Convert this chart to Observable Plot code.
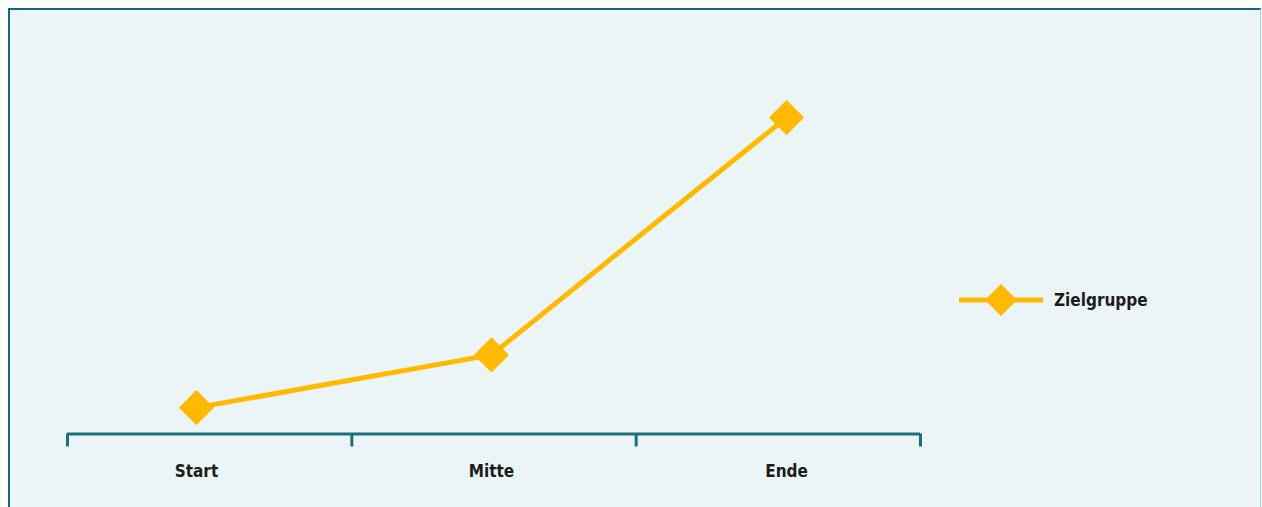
<!DOCTYPE html>
<html>
<head>
<meta charset="utf-8">
<script src="https://cdn.jsdelivr.net/npm/d3@7"></script>
<script src="https://cdn.jsdelivr.net/npm/@observablehq/plot@0.6"></script>
<style>
  html, body { margin: 0; padding: 0; background: #ffffff; }
  #panel {
    position: absolute; left: 8px; top: 8px; width: 1253px; height: 499px;
    box-sizing: border-box; background: #ebf5f6;
    border-top: 2px solid #116b77; border-left: 2px solid #116b77; border-right: 1px solid #a8cdd2;
    overflow: hidden;
  }
  #chart { position: absolute; left: 0; top: 0; }
  #legend { position: absolute; left: 949px; top: 273px; height: 34px; display: flex; align-items: center; }
  #legend span { margin-left: 11px; font: bold 17px "DejaVu Sans Condensed", "DejaVu Sans", sans-serif; font-stretch: condensed; color: #1c1c1c; }
</style>
</head>
<body>
<div id="panel">
  <div id="chart"></div>
  <div id="legend">
    <svg width="84" height="34" viewBox="0 0 84 34">
      <line x1="0" y1="17" x2="84" y2="17" stroke="#ffb900" stroke-width="5"></line>
      <polygon points="42,1 58,17 42,33 26,17" fill="#ffb900"></polygon>
    </svg>
    <span>Zielgruppe</span>
  </div>
</div>
<script>
// Measurement points along the timeline
const stages = ["Start", "Mitte", "Ende"];
const values = [1, 3, 12];
const seriesName = "Zielgruppe";

const rows = stages.map((stage, i) => ({stage, index: i, value: values[i]}));

// The baseline spans three equal segments, slightly offset from the stage positions
const xDomain = [-0.437, 2.454];
const segmentEdges = d3.range(4).map(k => xDomain[0] + k * (xDomain[1] - xDomain[0]) / 3);

const teal = "#1b6e7a";
const gold = "#ffb900";
const labelFont = "'DejaVu Sans Condensed', 'DejaVu Sans', sans-serif";

const chart = Plot.plot({
  width: 1250,
  height: 497,
  marginLeft: 57,
  marginRight: 340,
  marginTop: 28,
  marginBottom: 73.5,
  style: {background: "transparent", fontFamily: labelFont, fontSize: "17px", color: "#1c1c1c"},
  x: {type: "linear", domain: xDomain, axis: null},
  y: {domain: [0, 15], axis: null},
  marks: [
    Plot.ruleY([0], {x1: xDomain[0], x2: xDomain[1], stroke: teal, strokeWidth: 3}),
    Plot.axisX(segmentEdges, {tickSize: 13, tickFormat: () => "", label: null, stroke: teal, strokeWidth: 3}),
    Plot.text(rows, {x: "index", y: 0, text: "stage", dy: 38, fill: "#1c1c1c", fontSize: 17, fontWeight: "bold", fontFamily: labelFont}),
    Plot.line(rows, {x: "index", y: "value", stroke: gold, strokeWidth: 5}),
    Plot.dot(rows, {x: "index", y: "value", symbol: "diamond2", r: 15.8, fill: gold, stroke: "none"})
  ]
});
chart.querySelectorAll("text").forEach(t => t.setAttribute("font-stretch", "condensed"));
document.getElementById("chart").appendChild(chart);
</script>
</body>
</html>
